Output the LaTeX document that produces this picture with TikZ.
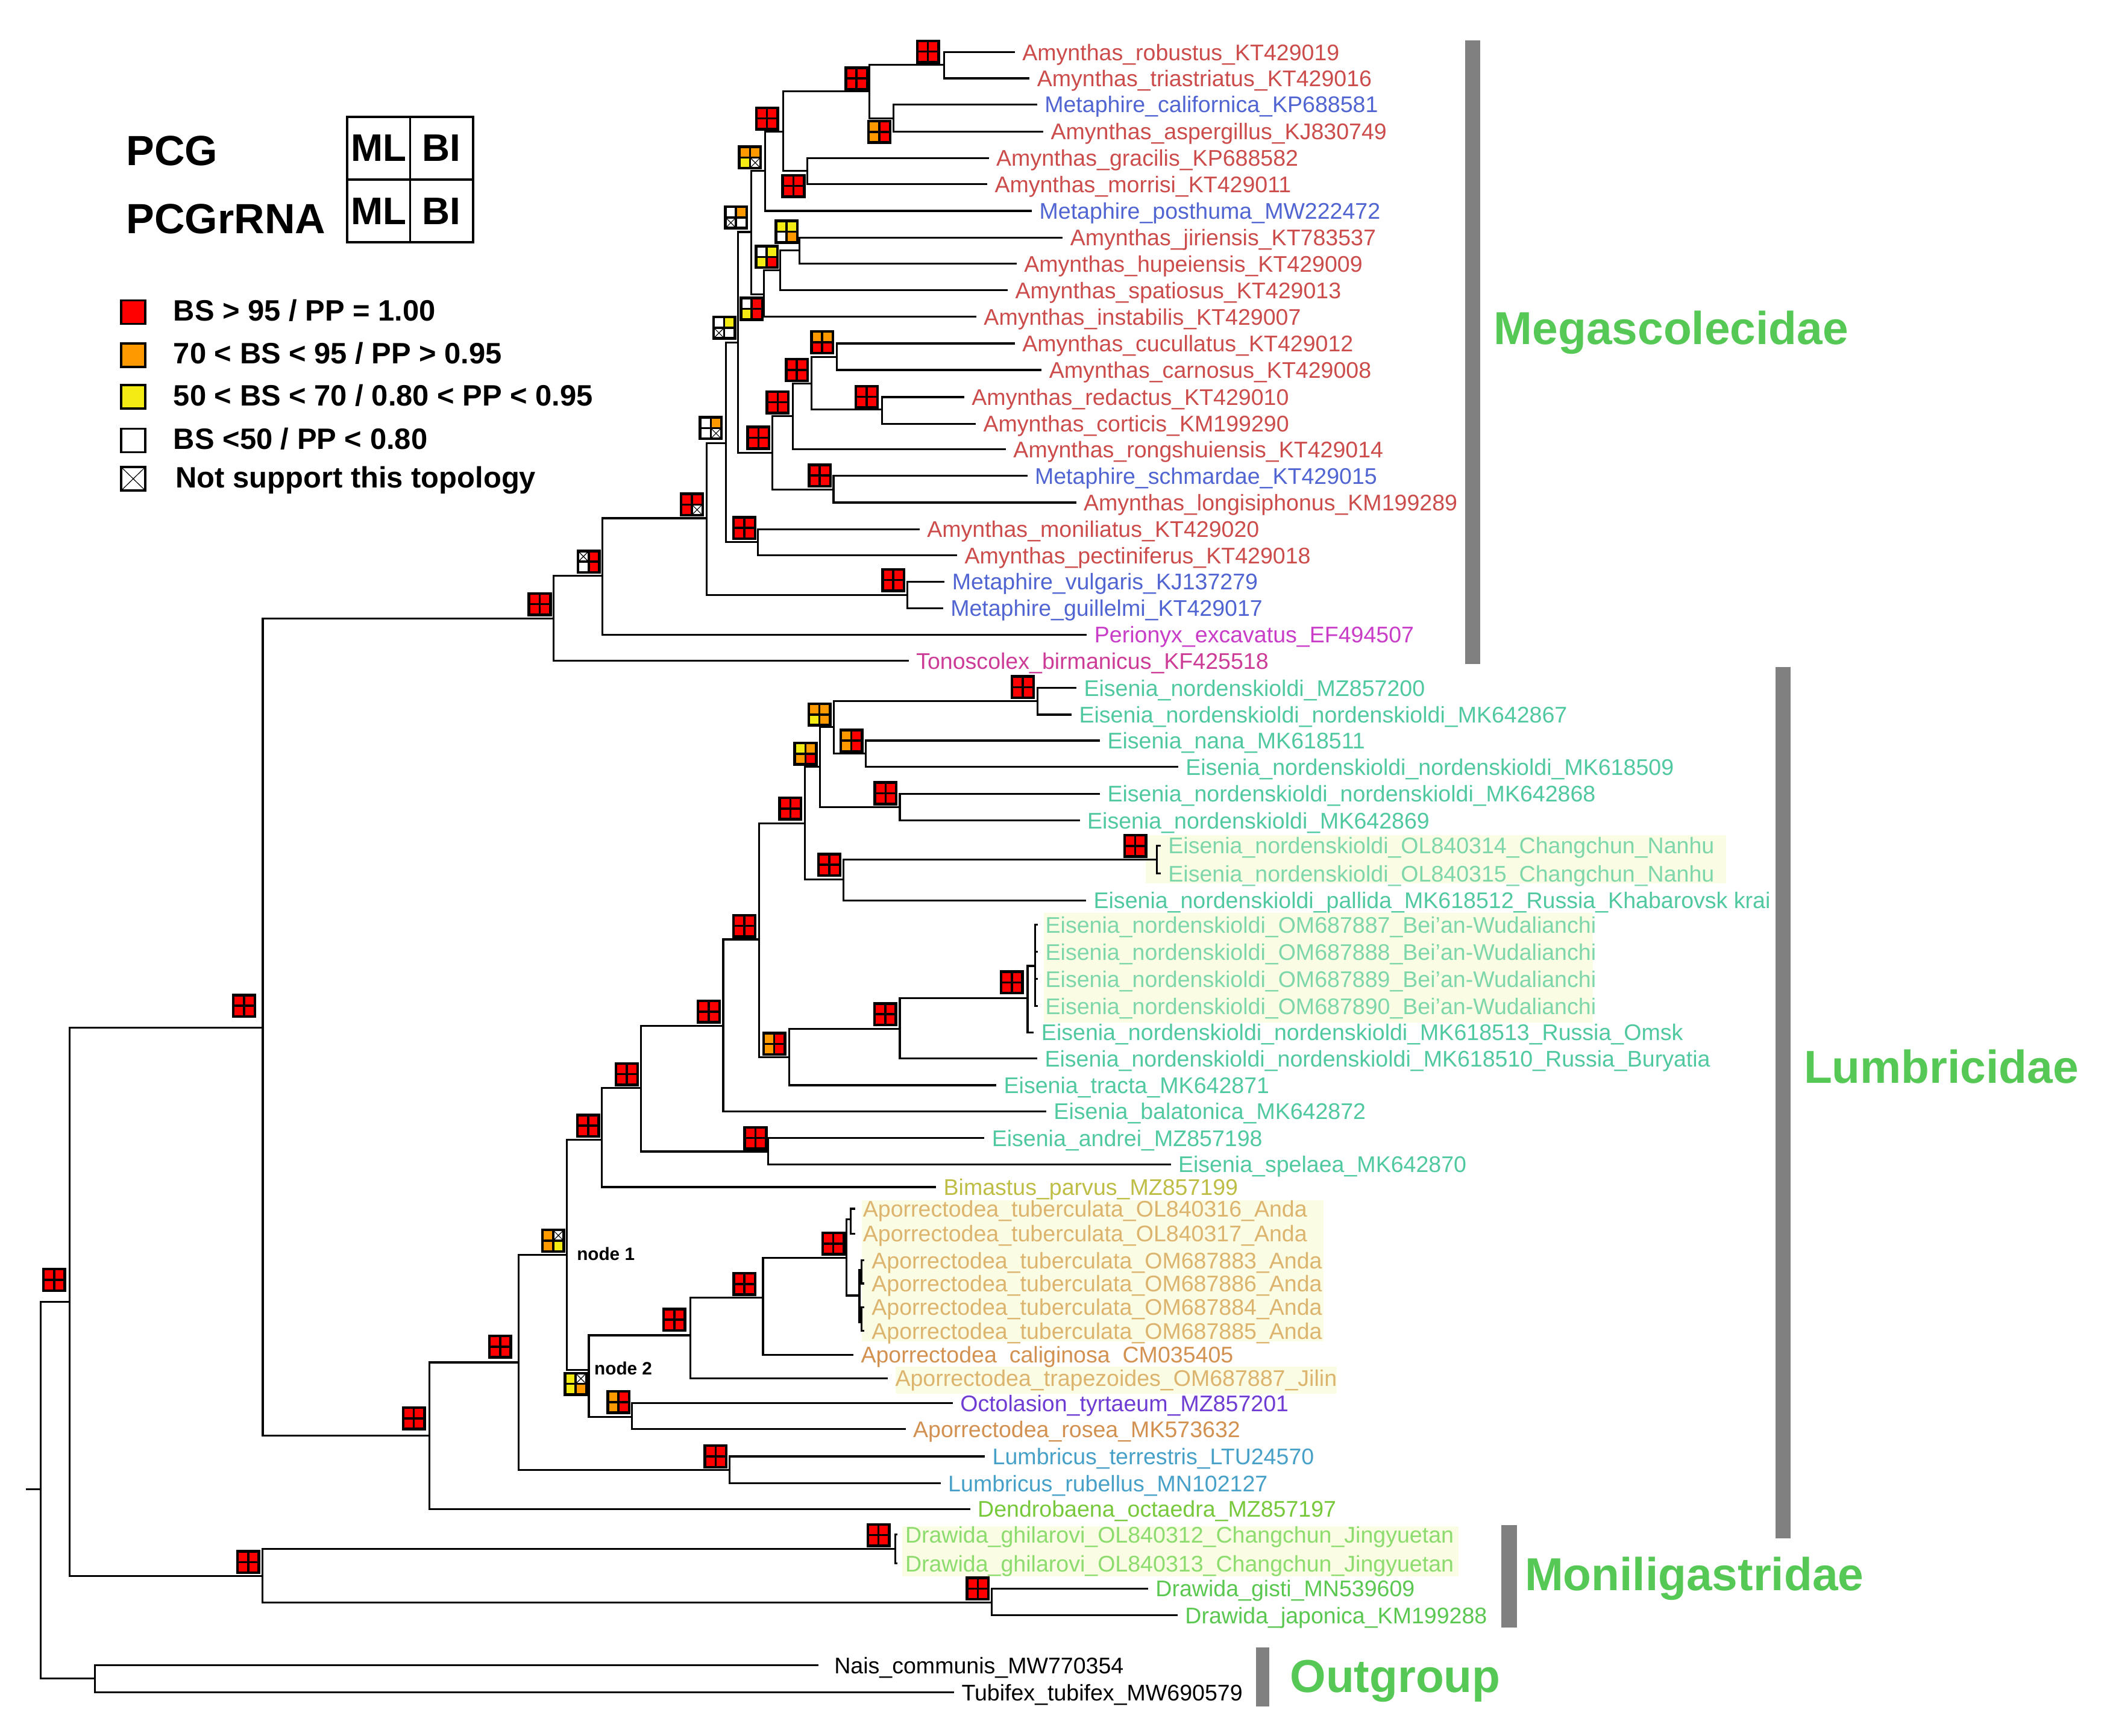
\documentclass[tikz,border=0pt]{standalone}
\usepackage{fontspec}
\setmainfont{Liberation Sans}

\definecolor{supred}{RGB}{255,0,0}
\definecolor{suporange}{RGB}{255,153,0}
\definecolor{supyellow}{RGB}{245,235,20}
\definecolor{cAmy}{RGB}{204,76,76}
\definecolor{cMet}{RGB}{80,100,210}
\definecolor{cPer}{RGB}{200,60,200}
\definecolor{cTon}{RGB}{204,60,150}
\definecolor{cEis}{RGB}{80,200,160}
\definecolor{cEisL}{RGB}{125,215,170}
\definecolor{cBim}{RGB}{190,190,70}
\definecolor{cApoL}{RGB}{220,180,110}
\definecolor{cApo}{RGB}{210,145,80}
\definecolor{cOct}{RGB}{110,60,210}
\definecolor{cLum}{RGB}{70,160,200}
\definecolor{cDen}{RGB}{120,200,60}
\definecolor{cDraL}{RGB}{140,220,110}
\definecolor{cDra}{RGB}{90,200,80}
\definecolor{hlbg}{RGB}{250,252,228}
\definecolor{cladegreen}{RGB}{85,200,85}
\definecolor{bargray}{RGB}{128,128,128}

\tikzset{
  branch/.style={draw, line width=0.8pt},
  tip/.style={anchor=west, inner xsep=3pt, inner ysep=0pt, text height=1.8ex, text depth=0.5ex,
    font=\fontsize{9.6}{11}\selectfont},
  amy/.style={text=cAmy}, met/.style={text=cMet}, per/.style={text=cPer}, ton/.style={text=cTon},
  eis/.style={text=cEis}, eisL/.style={text=cEisL}, bim/.style={text=cBim},
  apo/.style={text=cApo}, apoL/.style={text=cApoL}, oct/.style={text=cOct},
  lum/.style={text=cLum}, den/.style={text=cDen}, dra/.style={text=cDra}, draL/.style={text=cDraL},
  blk/.style={text=black},
  sbox/.style={fill=black, minimum size=0.36cm, inner sep=0pt, outer sep=0pt},
  scell/.style={minimum size=0.124cm, inner sep=0pt, outer sep=0pt},
  scell r/.style={fill=supred},
  scell o/.style={fill=suporange},
  scell y/.style={fill=supyellow},
  scell w/.style={fill=white},
  scell x/.style={fill=white, path picture={
      \draw[line width=0.3pt] (path picture bounding box.south west) -- (path picture bounding box.north east)
        (path picture bounding box.north west) -- (path picture bounding box.south east);}},
  nodelabel/.style={anchor=west, inner sep=0pt, font=\bfseries\fontsize{7.6}{9}\selectfont},
  legsq/.style={draw, line width=0.9pt, minimum width=0.36cm, minimum height=0.35cm, inner sep=0pt},
  legtxt/.style={anchor=west, inner sep=0pt, text height=1.4ex, text depth=0pt,
    font=\bfseries\fontsize{12.5}{14}\selectfont},
  legbig/.style={anchor=west, inner sep=0pt, font=\bfseries\fontsize{17.9}{20}\selectfont},
  gridcell/.style={draw, line width=0.9pt, minimum width=0.938cm, minimum height=0.93cm, inner sep=0pt,
    font=\bfseries\fontsize{16.3}{18}\selectfont},
  cladetxt/.style={anchor=west, inner sep=0pt, text height=1.4ex, text depth=0pt, text=cladegreen,
    font=\bfseries\fontsize{19.6}{22}\selectfont},
}

% support box: name, centre, PCG-ML, PCG-BI, PCGrRNA-ML, PCGrRNA-BI
\newcommand{\suppbox}[6]{%
  \node[sbox] (#1) at (#2) {};
  \node[scell, scell #3, anchor=south east] (#1a) at ([shift={(-0.8,-0.8)}]#1.center) {};
  \node[scell, scell #4, anchor=south west] (#1b) at ([shift={(0.8,-0.8)}]#1.center) {};
  \node[scell, scell #5, anchor=north east] (#1c) at ([shift={(-0.8,0.8)}]#1.center) {};
  \node[scell, scell #6, anchor=north west] (#1d) at ([shift={(0.8,0.8)}]#1.center) {};
}

\begin{document}
\begin{tikzpicture}[x=0.02cm, y=-0.02cm]
  \useasboundingbox (0,0) rectangle (1568,1294);

  % new sequences
  \fill[hlbg] (853.8,622.5) rectangle (1286.3,658.4);
  \fill[hlbg] (777.8,680.4) rectangle (1187,762);
  \fill[hlbg] (642.2,894.5) rectangle (986.2,999.6);
  \fill[hlbg] (667.6,1018.5) rectangle (996.3,1039);
  \fill[hlbg] (672.2,1137.8) rectangle (1087,1175);

  % internal nodes
  \coordinate (nRob) at (703.5,48.4);
  \coordinate (nCal) at (665.8,88.3);
  \coordinate (nA1) at (648,68.1);
  \coordinate (nGra) at (601.8,127.4);
  \coordinate (nA2) at (583.5,98);
  \coordinate (nA3) at (570.1,127.4);
  \coordinate (nJir) at (595.7,186.7);
  \coordinate (nA4) at (581.6,201.4);
  \coordinate (nA5) at (569.4,219.3);
  \coordinate (nA6) at (559.9,172.9);
  \coordinate (nCuc) at (623.7,266);
  \coordinate (nRed) at (657.3,305.2);
  \coordinate (nA7) at (604.9,285.8);
  \coordinate (nA8) at (590.8,310.2);
  \coordinate (nSch) at (621.2,364.8);
  \coordinate (nA9) at (575.5,337.7);
  \coordinate (nA10) at (549.9,255.2);
  \coordinate (nMon) at (564.8,404);
  \coordinate (nA11) at (540.9,330.5);
  \coordinate (nVul) at (676,443.6);
  \coordinate (nA12) at (526.8,386.3);
  \coordinate (nA13) at (449.1,429.3);
  \coordinate (nMeg) at (412.4,461.1);

  \coordinate (nE1) at (773.3,522.5);
  \coordinate (nNana) at (645.2,561.7);
  \coordinate (nE2) at (621.3,542);
  \coordinate (nE3) at (670.6,601.8);
  \coordinate (nE4) at (611.2,571.6);
  \coordinate (nOL) at (862.3,640.8);
  \coordinate (nE5) at (628.6,655.7);
  \coordinate (nE6) at (600,613.8);
  \coordinate (nOM) at (771.4,720);
  \coordinate (nE7) at (765.8,744.1);
  \coordinate (nE8) at (670.6,767);
  \coordinate (nE9) at (588,788.2);
  \coordinate (nE10) at (565.7,700.2);
  \coordinate (nE11) at (539,764.6);
  \coordinate (nAnd) at (572.4,858.3);
  \coordinate (nE12) at (477.6,811);
  \coordinate (nE13) at (448.4,849.6);
  \coordinate (nTubOL) at (634,909);
  \coordinate (nTubB) at (642.2,946.5);
  \coordinate (nTubC) at (642.2,985.5);
  \coordinate (nTubA) at (640.5,965.7);
  \coordinate (nP1) at (630.9,937.5);
  \coordinate (nP2) at (568.6,967.4);
  \coordinate (nApo) at (514.5,995.3);
  \coordinate (nOct) at (470.9,1056);
  \coordinate (nNode2) at (438.8,1021);
  \coordinate (nNode1) at (422.5,935.3);
  \coordinate (nLum) at (543.6,1095.7);
  \coordinate (nL1) at (386.3,1015.5);
  \coordinate (nLumb) at (320,1070);

  \coordinate (nIn1) at (195.8,766);
  \coordinate (nGhi) at (667.1,1154.6);
  \coordinate (nGis) at (739.2,1194.4);
  \coordinate (nMoni) at (195.7,1174.8);
  \coordinate (nIn) at (51.9,970.3);
  \coordinate (nOut) at (70.6,1251.3);
  \coordinate (nRoot) at (30.4,1110);
  \coordinate (rootL) at (19.3,1110);

  % tips
  \node[tip, amy] (t1) at (756.3,38.9) {Amynthas\_robustus\_KT429019};
  \node[tip, amy] (t2) at (767.3,58.4) {Amynthas\_triastriatus\_KT429016};
  \node[tip, met] (t3) at (772.9,77.9) {Metaphire\_californica\_KP688581};
  \node[tip, amy] (t4) at (777.5,98) {Amynthas\_aspergillus\_KJ830749};
  \node[tip, amy] (t5) at (736.9,117.8) {Amynthas\_gracilis\_KP688582};
  \node[tip, amy] (t6) at (735.7,137.3) {Amynthas\_morrisi\_KT429011};
  \node[tip, met] (t7) at (769,157.2) {Metaphire\_posthuma\_MW222472};
  \node[tip, amy] (t8) at (792,177.1) {Amynthas\_jiriensis\_KT783537};
  \node[tip, amy] (t9) at (757.6,196.6) {Amynthas\_hupeiensis\_KT429009};
  \node[tip, amy] (t10) at (751,216.3) {Amynthas\_spatiosus\_KT429013};
  \node[tip, amy] (t11) at (727.6,236.1) {Amynthas\_instabilis\_KT429007};
  \node[tip, amy] (t12) at (756.3,256) {Amynthas\_cucullatus\_KT429012};
  \node[tip, amy] (t13) at (776.3,275.8) {Amynthas\_carnosus\_KT429008};
  \node[tip, amy] (t14) at (718.6,296) {Amynthas\_redactus\_KT429010};
  \node[tip, amy] (t15) at (727.2,315.9) {Amynthas\_corticis\_KM199290};
  \node[tip, amy] (t16) at (749.6,335) {Amynthas\_rongshuiensis\_KT429014};
  \node[tip, met] (t17) at (765.6,354.8) {Metaphire\_schmardae\_KT429015};
  \node[tip, amy] (t18) at (802,374.6) {Amynthas\_longisiphonus\_KM199289};
  \node[tip, amy] (t19) at (685.3,394.4) {Amynthas\_moniliatus\_KT429020};
  \node[tip, amy] (t20) at (713.3,414) {Amynthas\_pectiniferus\_KT429018};
  \node[tip, met] (t21) at (704,433.6) {Metaphire\_vulgaris\_KJ137279};
  \node[tip, met] (t22) at (702.8,453.3) {Metaphire\_guillelmi\_KT429017};
  \node[tip, per] (t23) at (810,473) {Perionyx\_excavatus\_EF494507};
  \node[tip, ton] (t24) at (677.2,492.6) {Tonoscolex\_birmanicus\_KF425518};
  \node[tip, eis] (t25) at (802.2,512.8) {Eisenia\_nordenskioldi\_MZ857200};
  \node[tip, eis] (t26) at (798.6,532.7) {Eisenia\_nordenskioldi\_nordenskioldi\_MK642867};
  \node[tip, eis] (t27) at (819.7,552) {Eisenia\_nana\_MK618511};
  \node[tip, eis] (t28) at (878,571.6) {Eisenia\_nordenskioldi\_nordenskioldi\_MK618509};
  \node[tip, eis] (t29) at (819.7,591.6) {Eisenia\_nordenskioldi\_nordenskioldi\_MK642868};
  \node[tip, eis] (t30) at (804.7,611.6) {Eisenia\_nordenskioldi\_MK642869};
  \node[tip, eisL] (t31) at (865,630.3) {Eisenia\_nordenskioldi\_OL840314\_Changchun\_Nanhu};
  \node[tip, eisL] (t32) at (865,651.2) {Eisenia\_nordenskioldi\_OL840315\_Changchun\_Nanhu};
  \node[tip, eis] (t33) at (809.4,671.2) {Eisenia\_nordenskioldi\_pallida\_MK618512\_Russia\_Khabarovsk krai};
  \node[tip, eisL] (t34) at (773.5,689.4) {Eisenia\_nordenskioldi\_OM687887\_Bei’an-Wudalianchi};
  \node[tip, eisL] (t35) at (773.5,709.6) {Eisenia\_nordenskioldi\_OM687888\_Bei’an-Wudalianchi};
  \node[tip, eisL] (t36) at (773.5,729.8) {Eisenia\_nordenskioldi\_OM687889\_Bei’an-Wudalianchi};
  \node[tip, eisL] (t37) at (773.5,750) {Eisenia\_nordenskioldi\_OM687890\_Bei’an-Wudalianchi};
  \node[tip, eis] (t38) at (770.5,769.5) {Eisenia\_nordenskioldi\_nordenskioldi\_MK618513\_Russia\_Omsk};
  \node[tip, eis] (t39) at (773,789) {Eisenia\_nordenskioldi\_nordenskioldi\_MK618510\_Russia\_Buryatia};
  \node[tip, eis] (t40) at (742.5,808.9) {Eisenia\_tracta\_MK642871};
  \node[tip, eis] (t41) at (779.7,828.3) {Eisenia\_balatonica\_MK642872};
  \node[tip, eis] (t42) at (733.6,848.4) {Eisenia\_andrei\_MZ857198};
  \node[tip, eis] (t43) at (872.5,868) {Eisenia\_spelaea\_MK642870};
  \node[tip, bim] (t44) at (697.6,884.8) {Bimastus\_parvus\_MZ857199};
  \node[tip, apoL] (t45) at (637.5,901) {Aporrectodea\_tuberculata\_OL840316\_Anda};
  \node[tip, apoL] (t46) at (637.5,919.5) {Aporrectodea\_tuberculata\_OL840317\_Anda};
  \node[tip, apoL] (t47) at (644,939.5) {Aporrectodea\_tuberculata\_OM687883\_Anda};
  \node[tip, apoL] (t48) at (644,956.7) {Aporrectodea\_tuberculata\_OM687886\_Anda};
  \node[tip, apoL] (t49) at (644,974.3) {Aporrectodea\_tuberculata\_OM687884\_Anda};
  \node[tip, apoL] (t50) at (644,992) {Aporrectodea\_tuberculata\_OM687885\_Anda};
  \node[tip, apo] (t51) at (636,1009.8) {Aporrectodea\ \ caliginosa\ \ CM035405};
  \node[tip, apoL] (t52) at (661.6,1027.4) {Aporrectodea\_trapezoides\_OM687887\_Jilin};
  \node[tip, oct] (t53) at (710,1046) {Octolasion\_tyrtaeum\_MZ857201};
  \node[tip, apo] (t54) at (674.9,1065.3) {Aporrectodea\_rosea\_MK573632};
  \node[tip, lum] (t55) at (734,1085.6) {Lumbricus\_terrestris\_LTU24570};
  \node[tip, lum] (t56) at (701,1105.7) {Lumbricus\_rubellus\_MN102127};
  \node[tip, den] (t57) at (723,1124.9) {Dendrobaena\_octaedra\_MZ857197};
  \node[tip, draL] (t58) at (669,1143.8) {Drawida\_ghilarovi\_OL840312\_Changchun\_Jingyuetan};
  \node[tip, draL] (t59) at (669,1165.5) {Drawida\_ghilarovi\_OL840313\_Changchun\_Jingyuetan};
  \node[tip, dra] (t60) at (855.6,1184.2) {Drawida\_gisti\_MN539609};
  \node[tip, dra] (t61) at (877.6,1204) {Drawida\_japonica\_KM199288};
  \node[tip, blk, inner xsep=6.5pt] (t62) at (610,1241.4) {Nais\_communis\_MW770354};
  \node[tip, blk] (t63) at (711,1261.6) {Tubifex\_tubifex\_MW690579};

  % branches
  \draw[branch] (nRob) |- (t1.west) (nRob) |- (t2.west);
  \draw[branch] (nCal) |- (t3.west) (nCal) |- (t4.west);
  \draw[branch] (nA1) |- (nRob) (nA1) |- (nCal);
  \draw[branch] (nGra) |- (t5.west) (nGra) |- (t6.west);
  \draw[branch] (nA2) |- (nA1) (nA2) |- (nGra);
  \draw[branch] (nA3) |- (nA2) (nA3) |- (t7.west);
  \draw[branch] (nJir) |- (t8.west) (nJir) |- (t9.west);
  \draw[branch] (nA4) |- (nJir) (nA4) |- (t10.west);
  \draw[branch] (nA5) |- (nA4) (nA5) |- (t11.west);
  \draw[branch] (nA6) |- (nA3) (nA6) |- (nA5);
  \draw[branch] (nCuc) |- (t12.west) (nCuc) |- (t13.west);
  \draw[branch] (nRed) |- (t14.west) (nRed) |- (t15.west);
  \draw[branch] (nA7) |- (nCuc) (nA7) |- (nRed);
  \draw[branch] (nA8) |- (nA7) (nA8) |- (t16.west);
  \draw[branch] (nSch) |- (t17.west) (nSch) |- (t18.west);
  \draw[branch] (nA9) |- (nA8) (nA9) |- (nSch);
  \draw[branch] (nA10) |- (nA6) (nA10) |- (nA9);
  \draw[branch] (nMon) |- (t19.west) (nMon) |- (t20.west);
  \draw[branch] (nA11) |- (nA10) (nA11) |- (nMon);
  \draw[branch] (nVul) |- (t21.west) (nVul) |- (t22.west);
  \draw[branch] (nA12) |- (nA11) (nA12) |- (nVul);
  \draw[branch] (nA13) |- (nA12) (nA13) |- (t23.west);
  \draw[branch] (nMeg) |- (nA13) (nMeg) |- (t24.west);

  \draw[branch] (nE1) |- (t25.west) (nE1) |- (t26.west);
  \draw[branch] (nNana) |- (t27.west) (nNana) |- (t28.west);
  \draw[branch] (nE2) |- (nE1) (nE2) |- (nNana);
  \draw[branch] (nE3) |- (t29.west) (nE3) |- (t30.west);
  \draw[branch] (nE4) |- (nE2) (nE4) |- (nE3);
  \draw[branch] (nOL) |- (t31.west) (nOL) |- (t32.west);
  \draw[branch] (nE5) |- (nOL) (nE5) |- (t33.west);
  \draw[branch] (nE6) |- (nE4) (nE6) |- (nE5);
  \draw[branch] (nOM) |- (t34.west) (nOM) |- (t35.west) (nOM) |- (t36.west) (nOM) |- (t37.west);
  \draw[branch] (nE7) |- (nOM) (nE7) |- (t38.west);
  \draw[branch] (nE8) |- (nE7) (nE8) |- (t39.west);
  \draw[branch] (nE9) |- (nE8) (nE9) |- (t40.west);
  \draw[branch] (nE10) |- (nE6) (nE10) |- (nE9);
  \draw[branch] (nE11) |- (nE10) (nE11) |- (t41.west);
  \draw[branch] (nAnd) |- (t42.west) (nAnd) |- (t43.west);
  \draw[branch] (nE12) |- (nE11) (nE12) |- (nAnd);
  \draw[branch] (nE13) |- (nE12) (nE13) |- (t44.west);
  \draw[branch] (nTubOL) |- (t45.west) (nTubOL) |- (t46.west);
  \draw[branch] (nTubB) |- (t47.west) (nTubB) |- (t48.west);
  \draw[branch] (nTubC) |- (t49.west) (nTubC) |- (t50.west);
  \draw[branch] (nTubA) |- (nTubB) (nTubA) |- (nTubC);
  \draw[branch] (nP1) |- (nTubOL) (nP1) |- (nTubA);
  \draw[branch] (nP2) |- (nP1) (nP2) |- (t51.west);
  \draw[branch] (nApo) |- (nP2) (nApo) |- (t52.west);
  \draw[branch] (nOct) |- (t53.west) (nOct) |- (t54.west);
  \draw[branch] (nNode2) |- (nApo) (nNode2) |- (nOct);
  \draw[branch] (nNode1) |- (nE13) (nNode1) |- (nNode2);
  \draw[branch] (nLum) |- (t55.west) (nLum) |- (t56.west);
  \draw[branch] (nL1) |- (nNode1) (nL1) |- (nLum);
  \draw[branch] (nLumb) |- (nL1) (nLumb) |- (t57.west);

  \draw[branch] (nIn1) |- (nMeg) (nIn1) |- (nLumb);
  \draw[branch] (nGhi) |- (t58.west) (nGhi) |- (t59.west);
  \draw[branch] (nGis) |- (t60.west) (nGis) |- (t61.west);
  \draw[branch] (nMoni) |- (nGhi) (nMoni) |- (nGis);
  \draw[branch] (nIn) |- (nIn1) (nIn) |- (nMoni);
  \draw[branch] (nOut) |- (t62.west) (nOut) |- (t63.west);
  \draw[branch] (nRoot) |- (nIn) (nRoot) |- (nOut);
  \draw[branch] (rootL) -- (nRoot);

  % node labels
  \node[nodelabel] (lab1) at (429.6,934.5) {node 1};
  \node[nodelabel] (lab2) at (442.6,1019.8) {node 2};

  % support values
  \suppbox{bRob}{691.5,38.5}{r}{r}{r}{r}
  \suppbox{bA1}{638.3,58.5}{r}{r}{r}{r}
  \suppbox{bCal}{655.3,98.3}{o}{r}{o}{r}
  \suppbox{bA2}{571.6,88.3}{r}{r}{r}{r}
  \suppbox{bGra}{591.3,138.6}{r}{r}{r}{r}
  \suppbox{bA3}{558.9,117.4}{o}{o}{y}{x}
  \suppbox{bA6}{548.5,162.1}{w}{o}{x}{w}
  \suppbox{bJir}{586.2,172.7}{y}{y}{w}{o}
  \suppbox{bA4}{571.4,191.5}{w}{y}{y}{r}
  \suppbox{bA5}{560.2,230.2}{w}{r}{y}{r}
  \suppbox{bA10}{539.7,244.3}{w}{y}{x}{w}
  \suppbox{bCuc}{612.7,255.1}{o}{o}{r}{r}
  \suppbox{bA7}{593.9,275.8}{r}{r}{r}{r}
  \suppbox{bRed}{645.9,295.8}{r}{r}{r}{r}
  \suppbox{bA8}{579.6,299.9}{r}{r}{r}{r}
  \suppbox{bA9}{565.2,326.3}{r}{r}{r}{r}
  \suppbox{bA11}{529.7,319.1}{w}{o}{w}{x}
  \suppbox{bSch}{610.9,354.5}{r}{r}{r}{r}
  \suppbox{bA12}{515.6,376.1}{r}{r}{r}{x}
  \suppbox{bMon}{554.7,393.5}{r}{r}{r}{r}
  \suppbox{bA13}{438.7,418.7}{x}{r}{w}{r}
  \suppbox{bVul}{665.7,432.4}{r}{r}{r}{r}
  \suppbox{bMeg}{402.2,450.3}{r}{r}{r}{r}
  \suppbox{bIn1}{181.9,749.7}{r}{r}{r}{r}
  \suppbox{bIn}{40.3,954}{r}{r}{r}{r}
  \suppbox{bE1}{762.2,512.2}{r}{r}{r}{r}
  \suppbox{bE2}{610.7,532.6}{o}{o}{y}{o}
  \suppbox{bNana}{634.5,552.1}{o}{r}{o}{r}
  \suppbox{bE4}{600.3,561.8}{y}{o}{o}{r}
  \suppbox{bE3}{660,591.3}{r}{r}{r}{r}
  \suppbox{bE6}{589,602.7}{r}{r}{r}{r}
  \suppbox{bE5}{618,644.6}{r}{r}{r}{r}
  \suppbox{bOL}{846,630.5}{r}{r}{r}{r}
  \suppbox{bE10}{554.7,690.2}{r}{r}{r}{r}
  \suppbox{bE7}{754,732.3}{r}{r}{r}{r}
  \suppbox{bE8}{659.7,756}{r}{r}{r}{r}
  \suppbox{bE9}{577,778.1}{o}{r}{o}{r}
  \suppbox{bE11}{528.2,754}{r}{r}{r}{r}
  \suppbox{bE12}{467.1,800.7}{r}{r}{r}{r}
  \suppbox{bAnd}{563,848.3}{r}{r}{r}{r}
  \suppbox{bE13}{438.3,839.1}{r}{r}{r}{r}
  \suppbox{bNode1}{412.2,924.8}{o}{x}{o}{y}
  \suppbox{bNode2}{429,1031.5}{y}{x}{y}{o}
  \suppbox{bApo}{502.5,983.7}{r}{r}{r}{r}
  \suppbox{bP2}{554.8,957.1}{r}{r}{r}{r}
  \suppbox{bP1}{621,927}{r}{r}{r}{r}
  \suppbox{bOct}{460.9,1045.1}{o}{r}{o}{r}
  \suppbox{bLum}{533.3,1085.6}{r}{r}{r}{r}
  \suppbox{bL1}{372.7,1003.8}{r}{r}{r}{r}
  \suppbox{bLumb}{308.4,1057.2}{r}{r}{r}{r}
  \suppbox{bMoni}{185,1164.4}{r}{r}{r}{r}
  \suppbox{bGhi}{654.7,1144.3}{r}{r}{r}{r}
  \suppbox{bGis}{728.7,1184.1}{r}{r}{r}{r}

  % legend
  \node[legbig] (pcg) at (93.8,112.5) {PCG};
  \node[legbig] (pcgr) at (93.8,163.2) {PCGrRNA};
  \node[gridcell] (gML1) at (282.2,110.5) {ML};
  \node[gridcell] (gBI1) at (329.1,110.5) {BI};
  \node[gridcell] (gML2) at (282.2,157.3) {ML};
  \node[gridcell] (gBI2) at (329.1,157.3) {BI};

  \node[legsq, fill=supred] (sqR) at (99.3,232.6) {};
  \node[legsq, fill=suporange] (sqO) at (99.3,264.7) {};
  \node[legsq, fill=supyellow] (sqY) at (99.3,295.8) {};
  \node[legsq, fill=white] (sqW) at (99.3,328.3) {};
  \node[legsq, scell x] (sqX) at (99.3,356.9) {};
  \node[legtxt] (txR) at (129,232.6) {BS > 95 / PP = 1.00};
  \node[legtxt] (txO) at (129,264.7) {70 < BS < 95 / PP > 0.95};
  \node[legtxt] (txY) at (129,295.8) {50 < BS < 70 / 0.80 < PP < 0.95};
  \node[legtxt] (txW) at (129,328.3) {BS <50 / PP < 0.80};
  \node[legtxt] (txX) at (130.6,356.9) {Not support this topology};

  % families
  \fill[bargray] (1092,30) rectangle (1103,495);
  \fill[bargray] (1323,497) rectangle (1334.4,1146.5);
  \fill[bargray] (1118.7,1137) rectangle (1130.4,1213);
  \fill[bargray] (936,1228) rectangle (946,1272);
  \node[cladetxt] (fMeg) at (1113,250) {Megascolecidae};
  \node[cladetxt] (fLum) at (1344,801) {Lumbricidae};
  \node[cladetxt] (fMon) at (1136,1179) {Moniligastridae};
  \node[cladetxt] (fOut) at (961,1255) {Outgroup};
\end{tikzpicture}
\end{document}
